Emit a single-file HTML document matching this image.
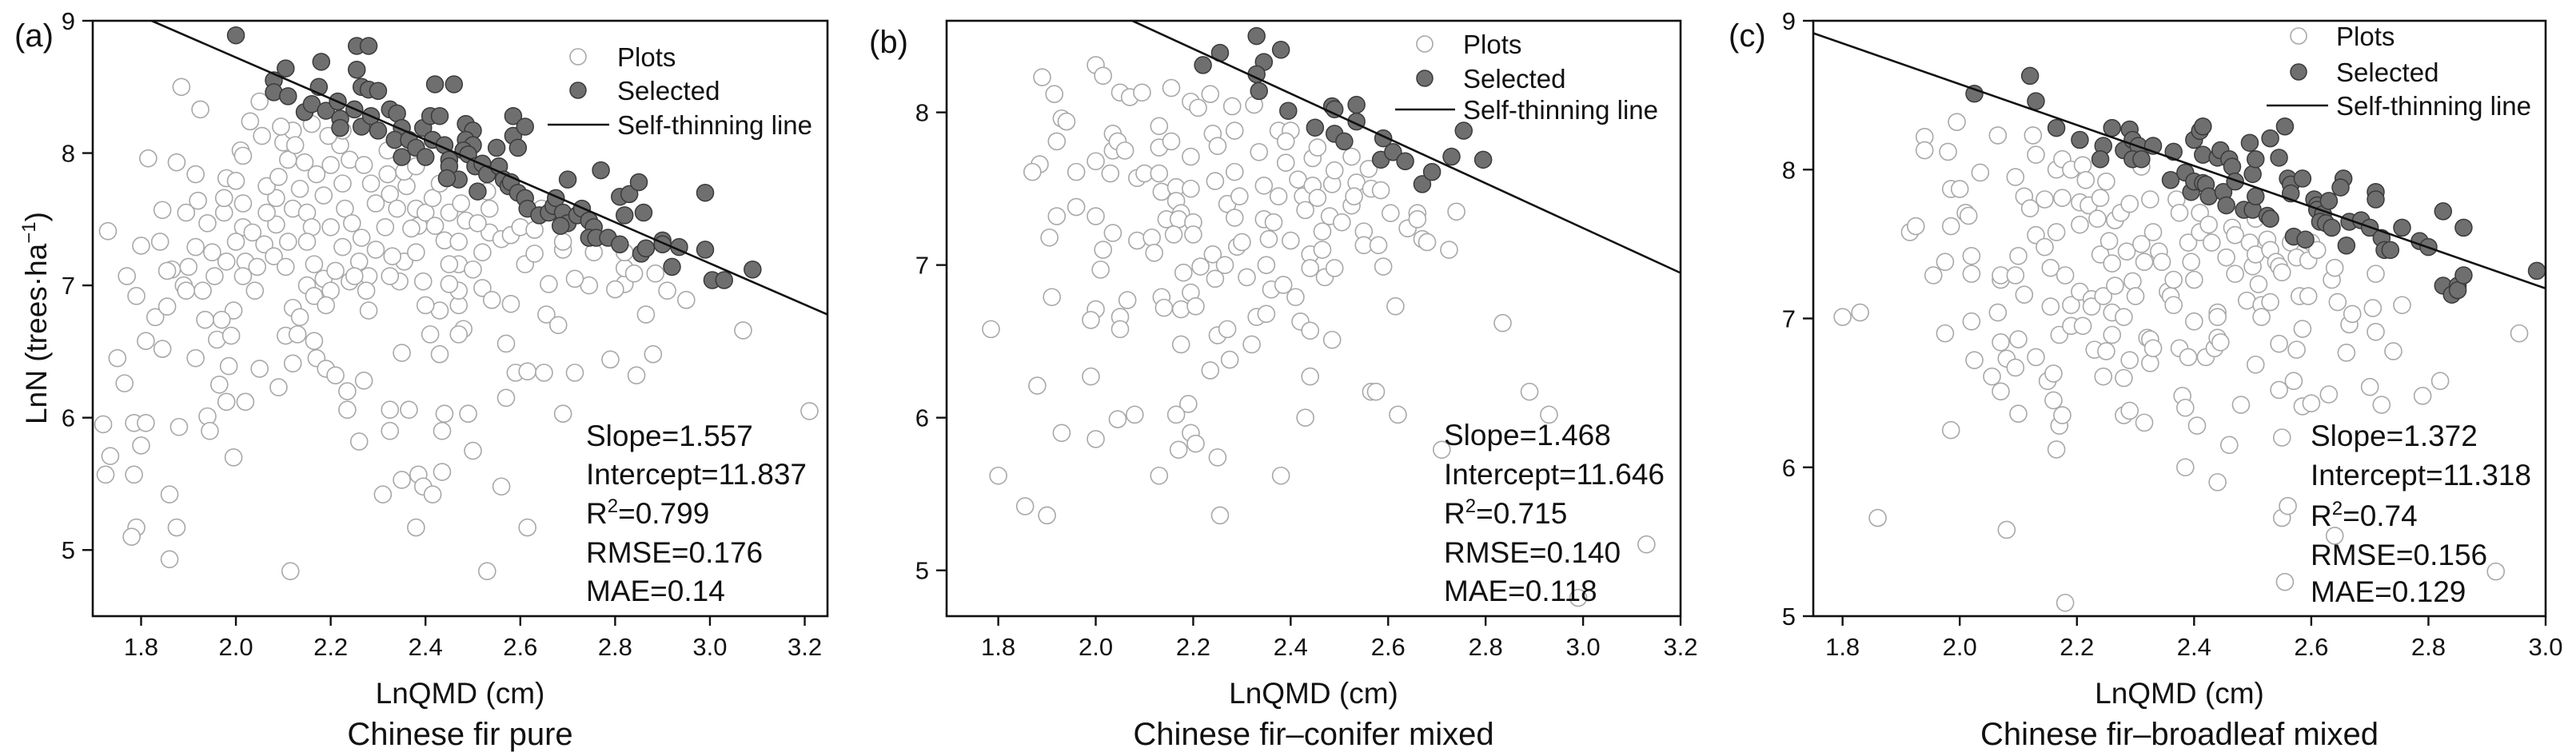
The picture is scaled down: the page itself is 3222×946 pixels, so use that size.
<!DOCTYPE html>
<html><head><meta charset="utf-8"><style>
html,body{margin:0;padding:0;background:#fff}
svg{display:block}
text{font-family:"Liberation Sans",Arial,sans-serif;fill:#111}
</style></head><body>
<svg id="fig" width="3222" height="946" viewBox="0 0 3222 946" xmlns="http://www.w3.org/2000/svg"></svg>
<script>
// ---------- data ----------
const plotsA=[[1.885,8.5],[1.925,8.33],[1.815,7.96],[1.73,7.41],[1.72,5.95],[1.735,5.71],[1.725,5.57],[1.77,7.07],[1.765,6.26],[1.75,6.45],[1.79,6.92],[1.8,7.3],[1.81,6.58],[1.785,5.96],[1.81,5.96],[1.8,5.79],[1.785,5.57],[1.79,5.17],[1.78,5.1],[1.86,5.42],[1.875,5.17],[1.86,4.93],[2.115,4.84],[2.53,4.84],[1.845,7.57],[1.84,7.33],[1.83,6.76],[1.845,6.52],[1.855,6.84],[1.88,5.93],[1.915,6.45],[1.94,6.01],[1.945,5.9],[1.965,6.25],[1.98,6.12],[1.985,6.39],[1.995,5.7],[2.02,6.12],[2.05,6.37],[2.09,6.23],[2.12,6.41],[2.105,6.62],[2.13,6.63],[2.165,6.58],[2.17,6.45],[2.19,6.37],[2.21,6.32],[2.235,6.2],[2.27,6.28],[2.235,6.06],[2.26,5.82],[2.325,6.06],[2.325,5.9],[2.365,6.06],[2.35,6.49],[2.31,5.42],[2.35,5.53],[2.385,5.57],[2.395,5.48],[2.415,5.42],[2.435,5.59],[2.38,5.17],[2.44,6.03],[2.435,5.9],[2.49,6.03],[2.5,5.75],[2.56,5.48],[2.57,6.15],[2.59,6.34],[2.615,6.35],[2.615,5.17],[2.65,6.34],[2.69,6.03],[2.715,6.34],[2.79,6.44],[2.845,6.32],[2.88,6.48],[2.865,6.78],[3.07,6.66],[3.21,6.05],[2.95,6.89],[2.91,6.96],[2.745,7.0],[2.715,7.05],[2.82,7.01],[2.82,7.13],[2.8,6.97],[2.885,7.09],[2.66,7.01],[2.655,6.78],[2.68,6.7],[2.58,6.86],[2.57,6.56],[2.52,6.98],[2.54,6.89],[2.48,6.67],[2.47,6.63],[2.47,6.85],[2.47,6.96],[2.43,6.81],[2.41,6.63],[2.43,6.48],[2.4,6.85],[2.355,7.18],[2.45,7.01],[2.47,7.16],[2.5,7.12],[2.52,7.25],[2.535,7.4],[2.56,7.35],[2.58,7.38],[2.61,7.16],[2.63,7.24],[2.69,7.27],[2.755,7.25],[2.82,7.25],[2.84,7.09],[1.875,7.93],[1.915,7.84],[1.895,7.55],[1.92,7.64],[1.94,7.47],[1.915,7.29],[1.9,7.14],[1.89,7.0],[1.93,6.96],[1.955,7.07],[1.98,7.18],[1.95,7.25],[1.975,7.55],[1.975,7.66],[1.98,7.81],[2.01,8.02],[2.03,8.24],[2.05,8.39],[2.015,7.98],[2.0,7.79],[2.015,7.62],[2.015,7.44],[2.035,7.4],[2.0,7.33],[2.02,7.18],[2.045,7.14],[2.06,7.31],[2.08,7.22],[2.105,7.14],[2.11,7.33],[2.085,7.46],[2.065,7.55],[2.085,7.66],[2.065,7.75],[2.09,7.82],[2.11,7.95],[2.1,8.08],[2.12,8.17],[2.125,8.06],[2.145,7.93],[2.135,7.73],[2.12,7.58],[2.15,7.55],[2.16,7.44],[2.15,7.33],[2.165,7.16],[2.15,7.0],[2.165,6.92],[2.185,7.05],[2.2,6.96],[2.19,6.85],[2.21,7.11],[2.225,7.29],[2.2,7.44],[2.185,7.68],[2.17,7.84],[2.2,7.91],[2.22,8.06],[2.195,8.13],[2.24,7.95],[2.225,7.77],[2.23,7.58],[2.245,7.47],[2.265,7.36],[2.26,7.18],[2.28,7.07],[2.275,6.96],[2.28,6.81],[2.295,7.27],[2.315,7.44],[2.295,7.62],[2.285,7.77],[2.27,7.91],[2.32,7.84],[2.325,7.69],[2.34,7.58],[2.36,7.75],[2.38,7.58],[2.385,7.45],[2.37,7.43],[2.4,7.55],[2.42,7.45],[2.44,7.34],[2.45,7.16],[2.47,7.33],[2.485,7.49],[2.45,7.55],[2.415,7.66],[2.43,7.77],[2.475,7.62],[2.51,7.47],[2.535,7.58],[2.355,7.86],[2.38,7.9],[2.32,8.02],[2.225,8.17],[2.16,8.22],[2.095,8.2],[2.055,8.13],[2.38,7.25],[2.33,7.22],[2.395,7.03],[2.345,7.03],[2.325,7.07],[2.24,7.03],[2.015,7.07],[2.04,6.96],[1.995,6.81],[1.97,6.74],[1.96,6.59],[1.935,6.74],[1.895,6.96],[1.865,7.12],[1.855,7.11],[1.99,6.62],[2.12,6.83],[2.135,6.76],[2.25,7.07],[2.53,7.71],[2.6,7.44],[2.645,7.58],[2.63,7.42],[2.69,7.33]];
const selectedA=[[2.0,8.89],[2.255,8.81],[2.28,8.81],[2.105,8.64],[2.18,8.69],[2.255,8.63],[2.08,8.55],[2.08,8.46],[2.11,8.43],[2.175,8.5],[2.265,8.5],[2.28,8.48],[2.3,8.47],[2.145,8.31],[2.16,8.37],[2.19,8.32],[2.215,8.39],[2.22,8.26],[2.22,8.19],[2.25,8.33],[2.265,8.2],[2.285,8.28],[2.3,8.17],[2.325,8.33],[2.34,8.3],[2.35,8.19],[2.335,8.1],[2.35,7.97],[2.365,8.1],[2.38,8.04],[2.395,8.19],[2.41,8.28],[2.43,8.28],[2.42,8.52],[2.46,8.52],[2.415,8.1],[2.44,8.06],[2.4,7.97],[2.45,7.95],[2.45,7.9],[2.47,7.8],[2.445,7.81],[2.485,8.22],[2.5,8.17],[2.485,8.1],[2.5,8.06],[2.48,8.02],[2.49,7.99],[2.505,7.9],[2.52,7.92],[2.53,7.84],[2.51,7.71],[2.55,8.04],[2.555,7.9],[2.565,7.8],[2.575,7.75],[2.58,7.78],[2.585,8.28],[2.585,8.13],[2.61,8.2],[2.595,8.04],[2.595,7.7],[2.61,7.66],[2.615,7.58],[2.64,7.53],[2.66,7.55],[2.67,7.6],[2.675,7.66],[2.69,7.55],[2.7,7.47],[2.685,7.45],[2.7,7.8],[2.72,7.53],[2.73,7.58],[2.745,7.49],[2.755,7.44],[2.745,7.36],[2.76,7.36],[2.785,7.36],[2.77,7.87],[2.81,7.31],[2.81,7.67],[2.82,7.53],[2.83,7.69],[2.85,7.78],[2.86,7.55],[2.855,7.24],[2.865,7.28],[2.9,7.34],[2.9,7.31],[2.935,7.29],[2.92,7.14],[2.99,7.27],[2.99,7.7],[3.005,7.04],[3.03,7.04],[3.09,7.12]];
const plotsB=[[1.785,6.58],[1.8,5.62],[1.855,5.42],[1.9,5.36],[1.88,6.21],[1.93,5.9],[1.91,6.79],[1.905,7.18],[1.92,7.32],[1.92,7.81],[1.915,8.12],[1.89,8.23],[1.885,7.66],[1.87,7.61],[1.93,7.96],[1.94,7.94],[1.96,7.61],[1.96,7.38],[2.0,7.32],[2.0,7.68],[2.0,8.31],[2.015,8.24],[2.0,6.71],[1.99,6.64],[1.99,6.27],[2.0,5.86],[2.015,7.1],[2.01,6.97],[2.035,7.21],[2.03,7.6],[2.035,7.86],[2.035,7.75],[2.045,7.81],[2.06,7.75],[2.05,8.13],[2.07,8.1],[2.095,8.13],[2.05,6.66],[2.05,6.58],[2.065,6.77],[2.045,5.99],[2.08,6.02],[2.085,7.16],[2.085,7.57],[2.1,7.6],[2.115,7.18],[2.12,7.08],[2.13,7.6],[2.13,7.91],[2.13,7.77],[2.135,7.48],[2.145,7.3],[2.135,6.79],[2.14,6.72],[2.155,8.16],[2.155,7.81],[2.165,7.51],[2.165,7.42],[2.175,7.34],[2.17,7.3],[2.16,7.2],[2.18,6.95],[2.175,6.71],[2.175,6.48],[2.17,5.79],[2.19,6.09],[2.165,6.02],[2.13,5.62],[2.195,5.9],[2.205,5.83],[2.195,7.5],[2.195,8.07],[2.21,8.03],[2.195,7.71],[2.2,7.28],[2.2,7.2],[2.215,6.99],[2.195,6.82],[2.205,6.73],[2.235,8.12],[2.24,7.86],[2.245,7.55],[2.24,7.07],[2.245,6.91],[2.25,6.54],[2.235,6.31],[2.25,5.74],[2.255,5.36],[2.25,7.78],[2.27,7.4],[2.265,7.0],[2.27,6.58],[2.275,6.38],[2.285,7.61],[2.28,8.04],[2.285,7.88],[2.295,7.45],[2.285,7.31],[2.29,7.12],[2.3,7.15],[2.31,6.92],[2.32,6.48],[2.33,6.66],[2.325,8.05],[2.335,7.74],[2.345,7.52],[2.345,7.3],[2.355,7.17],[2.365,7.28],[2.35,7.0],[2.36,6.84],[2.35,6.68],[2.375,7.88],[2.375,7.45],[2.38,5.62],[2.385,6.87],[2.4,7.88],[2.39,7.81],[2.39,7.67],[2.4,7.16],[2.41,6.79],[2.415,7.56],[2.425,7.45],[2.43,7.36],[2.44,7.07],[2.42,6.63],[2.44,6.57],[2.44,6.27],[2.43,6.0],[2.44,6.98],[2.445,7.52],[2.445,7.7],[2.455,7.77],[2.455,7.44],[2.465,7.22],[2.465,7.1],[2.47,6.92],[2.48,7.32],[2.485,7.53],[2.49,7.62],[2.49,6.98],[2.485,6.51],[2.505,7.28],[2.525,7.39],[2.525,7.71],[2.535,7.54],[2.53,7.45],[2.55,7.22],[2.55,7.13],[2.56,7.63],[2.565,7.5],[2.58,7.13],[2.585,7.49],[2.59,6.99],[2.605,7.34],[2.615,6.73],[2.62,6.02],[2.565,6.17],[2.575,6.17],[2.64,7.24],[2.66,7.34],[2.66,7.3],[2.67,7.17],[2.68,7.15],[2.725,7.1],[2.74,7.35],[2.835,6.62],[2.89,6.17],[2.93,6.02],[2.71,5.79],[2.99,4.82],[3.13,5.17]];
const selectedB=[[2.22,8.31],[2.255,8.39],[2.33,8.5],[2.38,8.41],[2.345,8.33],[2.33,8.25],[2.335,8.14],[2.395,8.01],[2.45,7.9],[2.485,8.04],[2.49,8.02],[2.535,8.05],[2.535,7.94],[2.49,7.86],[2.51,7.81],[2.59,7.83],[2.585,7.69],[2.61,7.74],[2.635,7.68],[2.67,7.53],[2.69,7.61],[2.73,7.71],[2.755,7.88],[2.795,7.69]];
const plotsC=[[1.8,7.01],[1.83,7.04],[1.86,5.66],[1.915,7.58],[1.925,7.62],[1.94,8.22],[1.94,8.13],[1.98,8.12],[1.995,8.32],[1.985,7.87],[2.0,7.87],[1.985,7.62],[1.975,7.38],[1.955,7.29],[1.975,6.9],[1.985,6.25],[2.01,7.71],[2.015,7.69],[2.02,7.42],[2.02,7.3],[2.02,6.98],[2.025,6.72],[2.035,7.98],[2.065,8.23],[2.07,7.26],[2.07,7.29],[2.065,7.04],[2.07,6.84],[2.08,6.73],[2.055,6.61],[2.07,6.51],[2.08,5.58],[2.095,7.95],[2.11,7.82],[2.12,7.74],[2.1,7.42],[2.095,7.29],[2.11,7.16],[2.1,6.86],[2.095,6.67],[2.1,6.36],[2.125,8.23],[2.13,8.1],[2.13,7.56],[2.13,6.74],[2.145,7.8],[2.145,7.48],[2.155,7.34],[2.155,7.08],[2.15,6.58],[2.16,6.63],[2.16,6.45],[2.165,6.12],[2.17,6.89],[2.17,6.28],[2.175,6.35],[2.18,5.09],[2.165,8.0],[2.175,8.07],[2.175,7.81],[2.165,7.58],[2.18,7.29],[2.19,8.0],[2.19,7.09],[2.19,6.95],[2.205,7.78],[2.21,8.03],[2.205,7.63],[2.205,7.18],[2.21,6.95],[2.215,7.93],[2.22,7.76],[2.225,7.13],[2.225,7.08],[2.23,6.79],[2.235,7.67],[2.24,7.43],[2.24,7.81],[2.245,7.15],[2.245,6.61],[2.25,6.78],[2.25,7.92],[2.255,7.52],[2.26,7.37],[2.26,7.04],[2.265,7.22],[2.265,7.66],[2.26,6.89],[2.275,7.71],[2.28,7.01],[2.28,6.6],[2.28,6.35],[2.285,7.45],[2.29,6.72],[2.29,6.38],[2.29,7.77],[2.295,7.25],[2.3,7.15],[2.31,8.02],[2.31,7.5],[2.315,7.38],[2.315,6.3],[2.32,6.87],[2.325,6.86],[2.325,6.7],[2.33,6.8],[2.325,7.8],[2.33,7.58],[2.34,7.45],[2.345,7.38],[2.355,7.18],[2.36,7.15],[2.365,7.09],[2.365,7.26],[2.37,7.8],[2.375,7.71],[2.375,6.8],[2.38,6.48],[2.385,6.4],[2.385,6.0],[2.39,6.74],[2.39,7.51],[2.395,7.38],[2.4,7.26],[2.4,6.98],[2.405,6.28],[2.41,7.71],[2.41,7.58],[2.42,6.74],[2.425,7.63],[2.43,7.51],[2.435,6.8],[2.44,7.04],[2.44,6.87],[2.44,7.01],[2.44,5.9],[2.445,6.84],[2.455,7.41],[2.46,6.15],[2.465,7.61],[2.47,7.56],[2.47,7.3],[2.48,6.42],[2.49,7.12],[2.495,7.51],[2.5,7.35],[2.505,7.67],[2.505,7.43],[2.505,6.69],[2.51,7.23],[2.515,7.09],[2.515,7.01],[2.525,7.53],[2.53,7.46],[2.53,7.11],[2.54,7.38],[2.545,6.83],[2.545,6.52],[2.545,7.35],[2.55,7.31],[2.555,5.23],[2.55,6.2],[2.55,5.66],[2.56,5.74],[2.565,7.51],[2.57,6.58],[2.575,6.79],[2.575,7.41],[2.58,7.15],[2.585,6.93],[2.585,6.41],[2.595,7.39],[2.6,7.51],[2.6,6.43],[2.595,7.15],[2.61,7.46],[2.63,6.49],[2.635,7.26],[2.64,7.34],[2.64,5.54],[2.645,7.11],[2.66,6.77],[2.665,6.96],[2.67,7.03],[2.7,6.54],[2.705,7.07],[2.71,7.3],[2.71,6.91],[2.72,6.42],[2.74,6.78],[2.755,7.09],[2.79,6.48],[2.82,6.58],[2.955,6.9],[2.915,5.3]];
const selectedC=[[2.025,8.51],[2.12,8.63],[2.13,8.46],[2.165,8.28],[2.205,8.2],[2.245,8.16],[2.24,8.07],[2.26,8.28],[2.28,8.13],[2.29,8.27],[2.295,8.2],[2.305,8.16],[2.295,8.07],[2.31,8.07],[2.33,8.16],[2.365,8.12],[2.36,7.93],[2.385,7.98],[2.395,7.85],[2.4,8.2],[2.41,8.26],[2.415,8.29],[2.4,7.92],[2.415,7.91],[2.42,7.9],[2.415,8.1],[2.425,7.82],[2.44,8.08],[2.445,8.13],[2.45,7.85],[2.455,7.76],[2.46,8.07],[2.465,8.02],[2.47,7.92],[2.485,7.73],[2.5,7.73],[2.495,8.18],[2.5,7.97],[2.505,8.07],[2.505,7.82],[2.525,7.69],[2.53,7.67],[2.53,8.21],[2.545,8.08],[2.555,8.29],[2.56,7.94],[2.565,7.9],[2.565,7.84],[2.57,7.55],[2.59,7.53],[2.585,7.94],[2.605,7.8],[2.61,7.76],[2.61,7.73],[2.62,7.7],[2.615,7.65],[2.625,7.64],[2.63,7.79],[2.635,7.61],[2.655,7.94],[2.65,7.88],[2.66,7.49],[2.665,7.65],[2.685,7.66],[2.7,7.61],[2.71,7.85],[2.71,7.8],[2.72,7.54],[2.725,7.46],[2.735,7.46],[2.755,7.61],[2.785,7.52],[2.8,7.48],[2.825,7.72],[2.825,7.22],[2.84,7.16],[2.85,7.22],[2.85,7.19],[2.86,7.29],[2.86,7.61],[2.985,7.32]];
const xTicksA=[1.8,2.0,2.2,2.4,2.6,2.8,3.0,3.2];
const yTicksA=[5,6,7,8,9];
const xTicksB=[1.8,2.0,2.2,2.4,2.6,2.8,3.0,3.2];
const yTicksB=[5,6,7,8];
const xTicksC=[1.8,2.0,2.2,2.4,2.6,2.8,3.0];
const yTicksC=[5,6,7,8,9];
const slopes=[1.557,1.468,1.372];
const intercepts=[11.837,11.646,11.318];
const r2Values=["0.799","0.715","0.74"];
const rmseValues=["0.176","0.140","0.156"];
const maeValues=["0.14","0.118","0.129"];
const panelLetters=["(a)","(b)","(c)"];
const panelTitles=["Chinese fir pure","Chinese fir\u2013conifer mixed","Chinese fir\u2013broadleaf mixed"];

// ---------- drawing ----------
const NS="http://www.w3.org/2000/svg";
const svg=document.getElementById('fig');
function mk(tag,attrs,parent){const e=document.createElementNS(NS,tag);for(const k in attrs)e.setAttribute(k,attrs[k]);(parent||svg).appendChild(e);return e;}

const panels=[
 {box:[116,26,1035,771],xd:[1.698,3.248],yd:[4.5,9],plots:plotsA,sel:selectedA,xt:xTicksA,yt:yTicksA,
  legend:{mx:723,tx:772,y1:71,y2:113,y3:156,lx1:685,lx2:762},stats:{x:733,y:[545,593,642,691,739]},letter:[18,58],ylabel:true},
 {box:[1184,26,2102,771],xd:[1.694,3.2],yd:[4.7,8.6],plots:plotsB,sel:selectedB,xt:xTicksB,yt:yTicksB,
  legend:{mx:1782,tx:1830,y1:55,y2:98,y3:137,lx1:1745,lx2:1820},stats:{x:1806,y:[544,593,642,691,739]},letter:[1087,66],ylabel:false},
 {box:[2268,26,3184,771],xd:[1.75,3.0],yd:[5,9],plots:plotsC,sel:selectedC,xt:xTicksC,yt:yTicksC,
  legend:{mx:2875,tx:2922,y1:45,y2:90,y3:132,lx1:2835,lx2:2912},stats:{x:2890,y:[545,594,645,694,740]},letter:[2162,58],ylabel:false}
];

panels.forEach((p,i)=>{
  const [L,T,R,B]=p.box;
  const g=mk('g',{});
  
  
  const sx=v=>L+(v-p.xd[0])/(p.xd[1]-p.xd[0])*(R-L);
  const sy=v=>B-(v-p.yd[0])/(p.yd[1]-p.yd[0])*(B-T);
  const clip=mk('clipPath',{id:'clip'+i},g);
  mk('rect',{x:L,y:T,width:R-L,height:B-T},clip);
  // points
  const pg=mk('g',{'clip-path':'url(#clip'+i+')'},g);
  p.plots.forEach(d=>{
    const c=mk('circle',{cx:sx(d[0]),cy:sy(d[1]),r:10.5,fill:'#fff',stroke:'#a8a8a8','stroke-width':1.6},pg);
    
    
  });
  p.sel.forEach(d=>{
    const c=mk('circle',{cx:sx(d[0]),cy:sy(d[1]),r:10.5,fill:'#6f6f6f',stroke:'#3a3a3a','stroke-width':1.5},pg);
    
    
  });
  // self-thinning line
  const f=x=>intercepts[i]-slopes[i]*x;
  const ln=mk('line',{x1:sx(p.xd[0]),y1:sy(f(p.xd[0])),x2:sx(p.xd[1]),y2:sy(f(p.xd[1])),stroke:'#111','stroke-width':2.6},pg);
  
  
  // frame
  const fr=mk('rect',{x:L,y:T,width:R-L,height:B-T,fill:'none',stroke:'#111','stroke-width':2.6},g);
  
  
  // ticks
  p.xt.forEach(v=>{
    const x=sx(v);
    mk('line',{x1:x,y1:B,x2:x,y2:B+12,stroke:'#111','stroke-width':2.4},g);
    const t=mk('text',{x:x,y:820,'font-size':31,'text-anchor':'middle'},g);
    t.textContent=v.toFixed(1);
    
    
  });
  p.yt.forEach(v=>{
    const y=sy(v);
    mk('line',{x1:L-13,y1:y,x2:L,y2:y,stroke:'#111','stroke-width':2.4},g);
    const t=mk('text',{x:L-22,y:y+11,'font-size':31,'text-anchor':'end'},g);
    t.textContent=String(v);
    
    
  });
  // axis titles
  const cx=(L+R)/2;
  const xl=mk('text',{x:cx,y:880,'font-size':37,'text-anchor':'middle'},g);
  xl.textContent='LnQMD (cm)';
  
  
  const tt=mk('text',{x:cx,y:932,'font-size':40,'text-anchor':'middle'},g);
  tt.textContent=panelTitles[i];
  
  
  const lt=mk('text',{x:p.letter[0],y:p.letter[1],'font-size':40},g);
  lt.textContent=panelLetters[i];
  
  
  if(p.ylabel){
    const yl=mk('text',{x:0,y:0,'font-size':37,'text-anchor':'middle',transform:'translate(58,398) rotate(-90)'},g);
    yl.innerHTML='LnN (trees\u00b7ha<tspan font-size="24" dy="-14">\u22121</tspan><tspan dy="14">)</tspan>';
    
    
  }
  // legend
  const lg=p.legend;
  const leg=mk('g',{},g);
  
  
  mk('circle',{cx:lg.mx,cy:lg.y1,r:10,fill:'#fff',stroke:'#a8a8a8','stroke-width':1.6},leg);
  mk('circle',{cx:lg.mx,cy:lg.y2,r:10,fill:'#6f6f6f',stroke:'#3a3a3a','stroke-width':1.5},leg);
  mk('line',{x1:lg.lx1,y1:lg.y3,x2:lg.lx2,y2:lg.y3,stroke:'#111','stroke-width':2.6},leg);
  [['Plots',lg.tx,lg.y1],['Selected',lg.tx,lg.y2],['Self-thinning line',lg.lx2+10,lg.y3]].forEach(e=>{
    const t=mk('text',{x:e[1],y:e[2]+12,'font-size':33},leg);
    t.textContent=e[0];
    
    
  });
  // stats
  const st=p.stats;
  const lines=['Slope='+slopes[i].toFixed(3),'Intercept='+intercepts[i].toFixed(3),null,'RMSE='+rmseValues[i],'MAE='+maeValues[i]];
  lines.forEach((s,k)=>{
    const t=mk('text',{x:st.x,y:st.y[k]+13,'font-size':37},g);
    if(s===null){t.innerHTML='R<tspan font-size="24" dy="-14">2</tspan><tspan dy="14">='+r2Values[i]+'</tspan>';}
    else t.textContent=s;
    
    
  });
});
</script>
</body></html>
